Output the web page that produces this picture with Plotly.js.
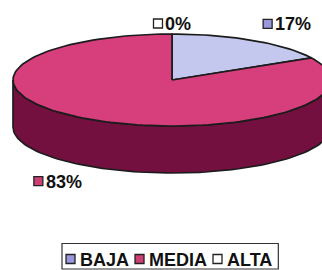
<!DOCTYPE html>
<html>
<head>
<meta charset="utf-8">
<script src="https://cdn.plot.ly/plotly-3.0.1.min.js"></script>
<style>
html,body{margin:0;padding:0;background:#fff;}
#chart{width:322px;height:270px;}
</style>
</head>
<body>
<div id="chart"></div>
<script>
// ---- data ----
const categories = ['BAJA', 'MEDIA', 'ALTA'];
const values = [17, 83, 0];
const valueLabels = ['17%', '83%', '0%'];

// ---- styles ----
const topColors = ['#c4c8ee', '#d63e7c', '#ffffff'];
const sideColors = ['#8a8cb4', '#74103f', '#cccccc'];
const legendColors = ['#9a98dc', '#cc3f72', '#ffffff'];
const edgeColor = '#1c1c1c';
const fontFamily = '"Liberation Sans", Arial, sans-serif';
const fontSize = 18;
const fontWeight = 'bold';

// ---- geometry (pixel space) ----
const cx = 172, cy = 80, rx = 159, ry = 46, depth = 47;
const W = 322, H = 270;

function pt(thetaDeg, dy) {
  const t = thetaDeg * Math.PI / 180;
  return [cx + rx * Math.sin(t), cy - ry * Math.cos(t) + (dy || 0)];
}
function arc(a, b, dy) {
  const pts = [];
  const n = Math.max(2, Math.ceil(Math.abs(b - a) / 2));
  for (let i = 0; i <= n; i++) pts.push(pt(a + (b - a) * i / n, dy));
  return pts;
}

const total = values.reduce((s, v) => s + v, 0);
const slices = [];
let acc = 0;
values.forEach((v, i) => {
  const a = acc / total * 360;
  acc += v;
  const b = acc / total * 360;
  slices.push({ a, b, i });
});

const traces = [];
// side walls (front half: theta in [90, 270])
slices.forEach(s => {
  const a = Math.max(s.a, 90), b = Math.min(s.b, 270);
  if (b - a <= 0) return;
  const poly = arc(a, b, 0).concat(arc(b, a, depth));
  poly.push(poly[0]);
  traces.push({
    type: 'scatter', mode: 'lines', fill: 'toself',
    x: poly.map(p => p[0]), y: poly.map(p => p[1]),
    fillcolor: sideColors[s.i], line: { color: edgeColor, width: 1.7 },
    hoverinfo: 'skip', showlegend: false
  });
});
// top faces
slices.forEach(s => {
  if (s.b - s.a <= 0) return;
  const poly = [[cx, cy]].concat(arc(s.a, s.b, 0));
  poly.push([cx, cy]);
  traces.push({
    type: 'scatter', mode: 'lines', fill: 'toself',
    x: poly.map(p => p[0]), y: poly.map(p => p[1]),
    fillcolor: topColors[s.i], line: { color: edgeColor, width: 1.7 },
    hoverinfo: 'skip', showlegend: false
  });
});

// text measuring
const ctx = document.createElement('canvas').getContext('2d');
function tw(txt) {
  ctx.font = fontWeight + ' ' + fontSize + 'px ' + fontFamily;
  return ctx.measureText(txt).width;
}
const textFont = { family: fontFamily, size: fontSize, color: '#111', weight: fontWeight };

const annotations = [];
const sqX = [], sqY = [], sqC = [];
const sq = 9, gap = 2;

// data labels
slices.forEach(s => {
  const m = (s.a + s.b) / 2;
  const t = m * Math.PI / 180;
  const sn = Math.sin(t), cs = Math.cos(t);
  const e = pt(m, cs < 0 ? depth : 0);
  const ax = e[0] + 20 * sn;
  const ay = e[1] + (cs > 0 ? -(4 + 12 * Math.abs(sn)) : 8);
  const txt = valueLabels[s.i];
  const boxW = sq + gap + tw(txt);
  const boxH = 13;
  let left;
  if (sn > 0.3) left = ax; else if (sn < -0.3) left = ax - boxW; else left = ax - boxW / 2;
  const yc = cs > 0 ? ay - boxH / 2 : ay + boxH / 2;
  sqX.push(left + sq / 2); sqY.push(yc); sqC.push(legendColors[s.i]);
  annotations.push({
    xref: 'x', yref: 'y', x: left + sq + gap, y: yc + 0.5, xanchor: 'left', yanchor: 'middle',
    text: txt, showarrow: false, font: textFont, borderpad: 0
  });
});

// legend
let lx = 66;
const ly = 259;
const legendStart = lx - 4;
let lastEnd = lx;
categories.forEach((c, i) => {
  sqX.push(lx + sq / 2); sqY.push(ly); sqC.push(legendColors[i]);
  const tx = lx + sq + 4;
  annotations.push({
    xref: 'x', yref: 'y', x: tx, y: ly + 0.5, xanchor: 'left', yanchor: 'middle',
    text: c, showarrow: false, font: textFont, borderpad: 0
  });
  lastEnd = tx + tw(c);
  lx = lastEnd + 7;
});
const legendEnd = lastEnd + 7;

traces.push({
  type: 'scatter', mode: 'markers', x: sqX, y: sqY,
  marker: { symbol: 'square', size: sq, color: sqC, line: { color: '#222', width: 1.3 } },
  hoverinfo: 'skip', showlegend: false, cliponaxis: false
});

const layout = {
  width: W, height: H,
  margin: { l: 0, r: 0, t: 0, b: 0, pad: 0 },
  paper_bgcolor: '#ffffff', plot_bgcolor: '#ffffff',
  showlegend: false,
  xaxis: { range: [0, W], visible: false, fixedrange: true },
  yaxis: { range: [H, 0], visible: false, fixedrange: true },
  shapes: [{
    type: 'rect', xref: 'x', yref: 'y', x0: legendStart, x1: legendEnd, y0: 243.5, y1: 269,
    line: { color: '#333', width: 1.2 }, fillcolor: 'rgba(0,0,0,0)', layer: 'below'
  }],
  annotations: annotations
};

Plotly.newPlot('chart', traces, layout, { staticPlot: true, displayModeBar: false });
</script>
</body>
</html>
